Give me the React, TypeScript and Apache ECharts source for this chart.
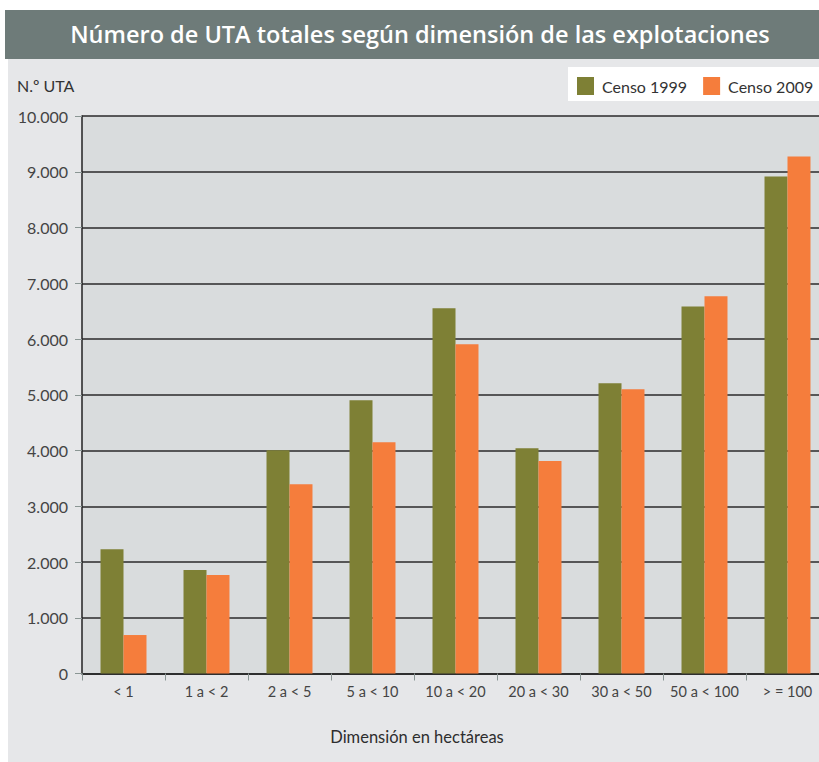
import React, { useEffect, useRef } from "react";
import * as echarts from "echarts";

const categories = ["< 1", "1 a < 2", "2 a < 5", "5 a < 10", "10 a < 20", "20 a < 30", "30 a < 50", "50 a < 100", "> = 100"];
const censo1999 = [2230, 1855, 4005, 4900, 6550, 4040, 5205, 6585, 8915];
const censo2009 = [690, 1765, 3395, 4150, 5905, 3810, 5100, 6765, 9275];
const seriesNames = ["Censo 1999", "Censo 2009"];
const titleText = "Número de UTA totales según dimensión de las explotaciones";
const yAxisTitle = "N.º UTA";
const xAxisTitle = "Dimensión en hectáreas";

const OLIVE = "#7e8035";
const ORANGE = "#f57d3c";
const FONT = "Lato, 'Open Sans', sans-serif";

export default function App() {
  const ref = useRef<HTMLDivElement>(null);
  useEffect(() => {
    document.body.style.margin = "0";
    document.body.style.overflow = "hidden";
    document.documentElement.style.overflow = "hidden";
    const chart = echarts.init(ref.current!, null, { renderer: "svg" });
    chart.setOption({
      animation: false,
      backgroundColor: "#ffffff",
      textStyle: { fontFamily: FONT },
      graphic: [
        { type: "rect", z: -100, silent: true, shape: { x: 8, y: 58, width: 830, height: 720 }, style: { fill: "#e6e7e9" } },
        { type: "rect", z: -100, silent: true, shape: { x: 5, y: 10, width: 830, height: 49 }, style: { fill: "#6e7b79" } },
        { type: "rect", z: -100, silent: true, shape: { x: 568, y: 67, width: 260, height: 34 }, style: { fill: "#ffffff" } },
        {
          type: "text", x: 420, y: 34,
          style: { text: titleText, fill: "#ffffff", font: `600 23.5px 'Open Sans', sans-serif`, align: "center", verticalAlign: "middle" },
        },
        {
          type: "text", x: 17, y: 85,
          style: { text: yAxisTitle, fill: "#333333", font: `16px ${FONT}`, align: "left", verticalAlign: "middle" },
        },
        {
          type: "text", x: 417, y: 737,
          style: { text: xAxisTitle, fill: "#2e2e2e", font: `16.5px ${FONT}`, align: "center", verticalAlign: "middle" },
        },
      ],
      legend: {
        left: 577, top: 77, padding: 0,
        itemWidth: 17, itemHeight: 18, itemGap: 16,
        icon: "rect",
        data: seriesNames,
        textStyle: { fontSize: 16, color: "#333333", fontFamily: FONT, padding: [0, 0, 0, 3] },
      },
      grid: { left: 82, top: 116, bottom: 88.5, right: 0, show: true, backgroundColor: "#d9dcdd", borderWidth: 0 },
      xAxis: {
        type: "category",
        data: categories,
        axisLine: { lineStyle: { color: "#222222", width: 1.5 } },
        axisTick: { show: true, interval: 0, length: 7, lineStyle: { color: "#8a9694", width: 1 } },
        axisLabel: { interval: 0, fontSize: 14.5, color: "#444444", margin: 10, fontFamily: FONT },
      },
      yAxis: {
        type: "value",
        min: 0, max: 10000, interval: 1000,
        axisLine: { show: true, lineStyle: { color: "#222222", width: 1.5 } },
        axisTick: { show: true, length: 7, lineStyle: { color: "#8a9694", width: 1 } },
        axisLabel: {
          fontSize: 16, color: "#444444", margin: 14, fontFamily: FONT,
          formatter: (v: number) => v.toString().replace(/\B(?=(\d{3})+(?!\d))/g, "."),
        },
        splitLine: { lineStyle: { color: "#2a2a2a", width: 1.5 } },
      },
      series: [
        { name: seriesNames[0], type: "bar", data: censo1999, itemStyle: { color: OLIVE }, barGap: "0%", barCategoryGap: "44.6%" },
        { name: seriesNames[1], type: "bar", data: censo2009, itemStyle: { color: ORANGE }, barGap: "0%", barCategoryGap: "44.6%" },
      ],
    });
    return () => chart.dispose();
  }, []);
  return <div ref={ref} style={{ width: 829, height: 762 }} />;
}
